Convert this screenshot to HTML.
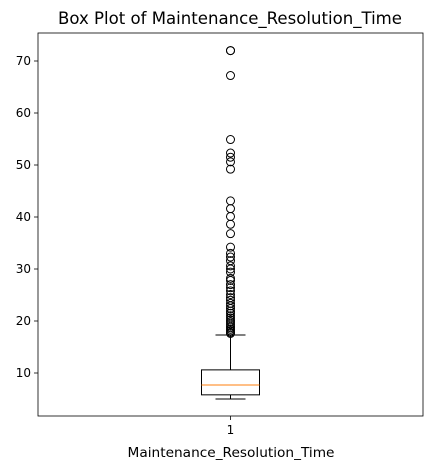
<!DOCTYPE html>
<html><head><meta charset="utf-8"><style>body{margin:0;background:#fff}svg{display:block;font-family:"DejaVu Sans","Liberation Sans",sans-serif}</style></head>
<body>
<svg id="c" width="434" height="470"></svg>
<script>
const categories=["1"];
const q1Vals=[5.8];
const medianVals=[7.7];
const q3Vals=[10.6];
const whiskerLowVals=[5.0];
const whiskerHighVals=[17.3];
const outlierVals=[72,72,67.2,54.9,52.3,51.5,50.6,49.2,43.1,41.6,40.1,38.6,36.8,34.2,33.0,32.3,31.6,30.6,30.0,29.4,28.2,27.8,27.0,26.4,25.8,25.1,24.5,24.0,23.4,22.9,22.4,21.9,21.5,21.0,20.6,20.2,19.8,19.4,19.0,18.7,18.4,18.1,17.8,17.6];
const yTicks=[10,20,30,40,50,60,70];
const L=38,R=423,T=33,B=416;
const y=v=>373-(v-10)*5.2;
const x=i=>L+(R-L)*(i+1)/(categories.length+1);
const svg=document.getElementById('c');
const NS='http://www.w3.org/2000/svg';
function mk(t,a,txt){const e=document.createElementNS(NS,t);for(const k in a)e.setAttribute(k,a[k]);if(txt!==undefined)e.textContent=txt;svg.appendChild(e);return e;}
let e;
e=mk('text',{x:230,y:24,'text-anchor':'middle','font-size':16.5,textLength:344,lengthAdjust:'spacingAndGlyphs'},'Box Plot of Maintenance_Resolution_Time');


yTicks.forEach(v=>{
 e=mk('line',{x1:L-4,x2:L,y1:y(v),y2:y(v),stroke:'#000','stroke-width':0.8});
 
 
 e=mk('text',{x:L-7,y:y(v)+4,'text-anchor':'end','font-size':12},v);
 
 
});
categories.forEach((c,i)=>{
 const cx=x(i),hw=29,cw=15;
 e=mk('line',{x1:cx,x2:cx,y1:B,y2:B+4,stroke:'#000','stroke-width':0.8});
 
 
 e=mk('text',{x:cx,y:B+18,'text-anchor':'middle','font-size':12},c);
 
 
 e=mk('line',{x1:cx,x2:cx,y1:y(q1Vals[i]),y2:y(whiskerLowVals[i]),stroke:'#000'});
 
 
 e=mk('line',{x1:cx,x2:cx,y1:y(q3Vals[i]),y2:y(whiskerHighVals[i]),stroke:'#000'});
 
 
 e=mk('line',{x1:cx-cw,x2:cx+cw,y1:y(whiskerLowVals[i]),y2:y(whiskerLowVals[i]),stroke:'#000'});
 
 
 e=mk('line',{x1:cx-cw,x2:cx+cw,y1:y(whiskerHighVals[i]),y2:y(whiskerHighVals[i]),stroke:'#000'});
 
 
 e=mk('rect',{x:cx-hw,y:y(q3Vals[i]),width:2*hw,height:y(q1Vals[i])-y(q3Vals[i]),fill:'none',stroke:'#000'});
 
 
 e=mk('line',{x1:cx-hw,x2:cx+hw,y1:y(medianVals[i]),y2:y(medianVals[i]),stroke:'#ff7f0e'});
 
 
 outlierVals.forEach(v=>{
  e=mk('circle',{cx:cx,cy:y(v),r:4,fill:'none',stroke:'#000'});
  
  
 });
});
e=mk('rect',{x:L,y:T,width:R-L,height:B-T,fill:'none',stroke:'#000','stroke-width':0.8});


e=mk('text',{x:231,y:B+41,'text-anchor':'middle','font-size':13.5,textLength:207,lengthAdjust:'spacingAndGlyphs'},'Maintenance_Resolution_Time');


</script>
</body></html>
